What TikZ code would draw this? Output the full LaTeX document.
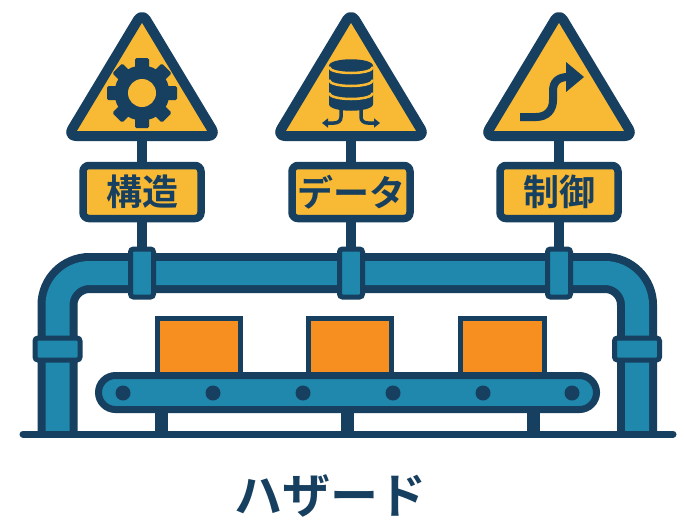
\documentclass[tikz,border=0pt]{standalone}
\usepackage{fontspec}
\newfontfamily\jp{Noto Sans CJK JP}[BoldFont={* Bold}]
\usetikzlibrary{arrows.meta}
\definecolor{navy}{HTML}{173F5F}
\definecolor{signyellow}{HTML}{F8B935}
\definecolor{pipeblue}{HTML}{2088AC}
\definecolor{boxorange}{HTML}{F78F20}
\tikzset{
  signtri/.style={draw=navy, fill=signyellow, line width=10pt, line join=round, rounded corners=8pt},
  labelbox/.style={draw=navy, fill=signyellow, line width=7.5pt, rounded corners=6pt, minimum width=118pt, minimum height=53pt, inner sep=0pt, font=\jp\bfseries\fontsize{36}{36}\selectfont, text=navy},
  pole/.style={navy, line width=10pt},
  coupling/.style={draw=navy, fill=pipeblue, line width=5pt, rounded corners=3pt},
  crate/.style={draw=navy, fill=boxorange, line width=5pt},
  roller/.style={fill=navy},
  leg/.style={fill=navy},
}
\begin{document}
\begin{tikzpicture}[x=1pt,y=-1pt]
\useasboundingbox (0,0) rectangle (684,523);
\fill[white] (0,0) rectangle (684,523);

% sign posts (behind everything else)
\foreach \cx in {142,351,559}{
  \draw[pole] (\cx,130) -- (\cx,262);
}

% triangles
\foreach \cx in {142,351,559}{
  \draw[signtri] (\cx,13) -- (\cx+74,136) -- (\cx-74,136) -- cycle;
}

% gear icon
\coordinate (g) at (142,93);
\fill[navy] (g) circle (27.5);
\foreach \a in {0,45,...,315}{
  \fill[navy, rotate around={\a:(g)}, rounded corners=1.5pt] (135,58) rectangle (149,75);
}
\fill[signyellow] (g) circle (14);

% database icon
\fill[navy] (329,66) -- (329,104) .. controls (329,113) and (373,113) .. (373,104) -- (373,66)
  .. controls (373,57) and (329,57) .. (329,66) -- cycle;
\draw[signyellow, line width=2.5pt] (329,67) .. controls (330,75) and (372,75) .. (373,67);
\draw[signyellow, line width=2.5pt] (329,80) .. controls (330,88) and (372,88) .. (373,80);
\draw[signyellow, line width=2.5pt] (329,93) .. controls (330,101) and (372,101) .. (373,93);
\draw[navy, line width=3.5pt, -{Triangle[length=6pt,width=9pt]}]
  (341,109) -- (341,117) .. controls (341,121) and (338,123) .. (334,123) -- (322,123);
\draw[navy, line width=3.5pt, -{Triangle[length=6pt,width=9pt]}]
  (361,109) -- (361,117) .. controls (361,121) and (364,123) .. (368,123) -- (380,123);

% curvy arrow icon
\draw[navy, line width=8pt] (520,117) -- (536,117) .. controls (547,117) and (553,110) .. (553,100)
  -- (553,91) .. controls (553,82) and (558,77) .. (568,77);
\fill[navy] (566,62) -- (584,77) -- (566,92) -- cycle;

% sign labels
\node[labelbox] (lA) at (142,192) {構造};
\node[labelbox] (lB) at (351,192) {データ};
\node[labelbox] (lC) at (559,192) {制御};

% pipe frame
\draw[navy, line width=40pt, rounded corners=32pt] (57.5,434) -- (57.5,273) -- (637,273) -- (637,434);
\draw[pipeblue, line width=24pt, rounded corners=32pt] (57.5,434) -- (57.5,273) -- (637,273) -- (637,434);

% couplings
\foreach \cx in {142,351,559}{
  \draw[coupling] (\cx-11.5,249) rectangle (\cx+11.5,297);
}
\draw[coupling] (35,338) rectangle (80,360);
\draw[coupling] (614.5,338) rectangle (659.5,360);

% conveyor legs
\fill[leg] (155,405) rectangle (168,434);
\fill[leg] (341,405) rectangle (354,434);
\fill[leg] (527,405) rectangle (540,434);

% crates
\draw[crate] (157.5,318.5) rectangle (240.5,380);
\draw[crate] (308.5,318.5) rectangle (391.5,380);
\draw[crate] (460.5,318.5) rectangle (544.5,380);

% conveyor belt
\draw[navy, fill=pipeblue, line width=7pt, rounded corners=17pt] (98.5,375.5) rectangle (596.5,409.5);
\foreach \rx in {123,213,303,393,483,572}{
  \fill[roller] (\rx,393) circle (7.5);
}

% ground line
\draw[navy, line width=7pt, line cap=round] (23,434) -- (673,434);

% title
\node[font=\jp\bfseries\fontsize{48}{48}\selectfont, text=navy] (title) at (330,496) {ハザード};
\end{tikzpicture}
\end{document}
